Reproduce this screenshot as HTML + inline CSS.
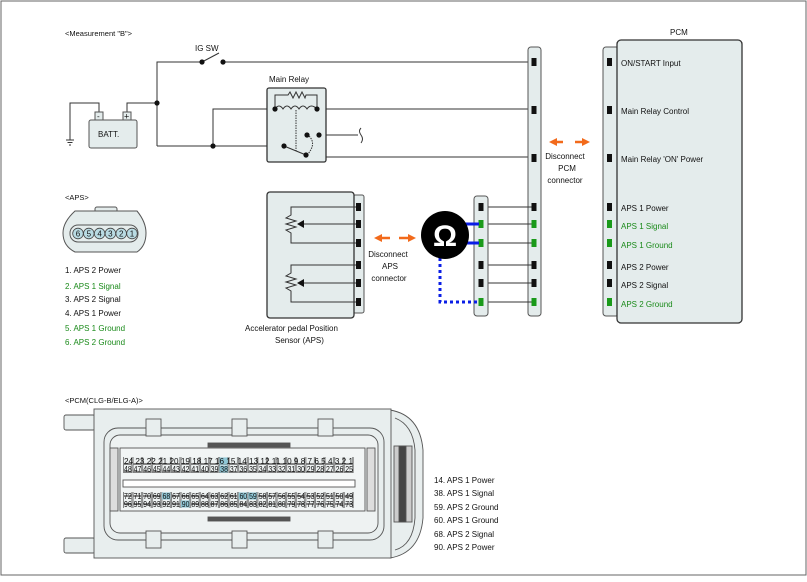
<!DOCTYPE html>
<html><head><meta charset="utf-8"><style>
html,body{margin:0;padding:0;background:#fff}
svg{display:block}
text{font-family:"Liberation Sans",sans-serif;font-size:8px;fill:#111}
.g{fill:#1a8a1a}
.s{font-size:7.5px}
</style></head><body>
<svg width="807" height="582" viewBox="0 0 807 582">
<defs>
<pattern id="pins" x="123" y="0" width="9.6" height="8" patternUnits="userSpaceOnUse">
<rect x="0.5" y="0.5" width="8.4" height="7" fill="#eef2f2" stroke="#555" stroke-width="0.7"/>
</pattern>
</defs>
<rect x="1" y="1" width="805" height="574" fill="none" stroke="#666" stroke-width="1"/>
<text x="65" y="36" class="s">&lt;Measurement "B"&gt;</text>

<!-- wiring -->
<g stroke="#333" stroke-width="1" fill="none">
<polyline points="157,146 157,62 202,62"/>
<line x1="202" y1="62" x2="219" y2="53"/>
<line x1="223" y1="62" x2="533" y2="62"/>
<polyline points="70,140 70,103 99,103 99,112"/>
<polyline points="127,112 127,103 157,103"/>
<line x1="157" y1="146" x2="284" y2="146"/>
<polyline points="213,146 213,109 275,109"/>
<line x1="317" y1="109" x2="533" y2="109"/>
<line x1="319" y1="135" x2="358" y2="135"/>
<path d="M361,128 q-3,3 0,7 q3,4 0,8"/>
<polyline points="320,135 320,157 533,157"/>
<line x1="66" y1="140" x2="74" y2="140"/><line x1="67.5" y1="142.5" x2="72.5" y2="142.5"/><line x1="69" y1="145" x2="71" y2="145"/>
</g>
<text x="195" y="51">IG SW</text>
<circle cx="202" cy="62" r="2.6" fill="#111"/><circle cx="223" cy="62" r="2.6" fill="#111"/>
<circle cx="157" cy="103" r="2.6" fill="#111"/><circle cx="213" cy="146" r="2.6" fill="#111"/>

<!-- battery -->
<rect x="89" y="120" width="48" height="28" rx="2" fill="#e4ecec" stroke="#555"/>
<rect x="95" y="112" width="8" height="8" fill="#e4ecec" stroke="#555"/>
<rect x="123" y="112" width="8" height="8" fill="#e4ecec" stroke="#555"/>
<text x="97" y="119" style="font-size:8px">-</text><text x="124" y="119.5" style="font-size:9px">+</text>
<text x="98" y="137">BATT.</text>

<!-- relay -->
<text x="269" y="82">Main Relay</text>
<rect x="267" y="88" width="59" height="74" rx="2" fill="#e4ecec" stroke="#333" stroke-width="1.3"/>
<g stroke="#333" stroke-width="1" fill="none">
<polyline points="275,109 275,95 288,95 290,92 293,98 296,92 299,98 302,92 305,98 306,95 317,95 317,109"/>
<path d="M275,109 q4,-6 8,0 q4,-6 8,0 q4,-6 8,0 q4,-6 8,0 q4,-6 10,0"/>
<line x1="296" y1="110" x2="296" y2="151" stroke-dasharray="1.5,1"/>
<line x1="284" y1="146" x2="306" y2="155"/>
<path d="M309,136 q8,8 -2,19" stroke-dasharray="1.5,1"/>
</g>
<circle cx="275" cy="109" r="2.6" fill="#111"/><circle cx="317" cy="109" r="2.6" fill="#111"/>
<circle cx="307" cy="135" r="2.6" fill="#111"/><circle cx="319" cy="135" r="2.6" fill="#111"/>
<circle cx="284" cy="146" r="2.6" fill="#111"/><circle cx="306" cy="155" r="2.6" fill="#111"/>

<!-- middle strip -->
<rect x="528" y="47" width="13" height="269" rx="3" fill="#e4ecec" stroke="#555"/>
<!-- small strip wires -->
<g stroke="#333" stroke-width="1">
<line x1="481" y1="207" x2="534" y2="207"/>
<line x1="481" y1="224" x2="534" y2="224"/>
<line x1="481" y1="243" x2="534" y2="243"/>
<line x1="481" y1="265" x2="534" y2="265"/>
<line x1="481" y1="283" x2="534" y2="283"/>
<line x1="481" y1="302" x2="534" y2="302"/>
</g>
<rect x="474" y="196" width="14" height="120" rx="3" fill="#e4ecec" stroke="#555"/>
<g fill="#111">
<rect x="531.5" y="58" width="5" height="8"/><rect x="531.5" y="106" width="5" height="8"/><rect x="531.5" y="154" width="5" height="8"/>
<rect x="531.5" y="203" width="5" height="8"/><rect x="531.5" y="261" width="5" height="8"/><rect x="531.5" y="279" width="5" height="8"/>
<rect x="478.5" y="203" width="5" height="8"/><rect x="478.5" y="261" width="5" height="8"/><rect x="478.5" y="279" width="5" height="8"/>
</g>
<g fill="#1a9a1a">
<rect x="531.5" y="220" width="5" height="8"/><rect x="531.5" y="239" width="5" height="8"/><rect x="531.5" y="298" width="5" height="8"/>
<rect x="478.5" y="220" width="5" height="8"/><rect x="478.5" y="239" width="5" height="8"/><rect x="478.5" y="298" width="5" height="8"/>
</g>

<!-- ohm meter -->
<line x1="455" y1="224" x2="479" y2="224" stroke="#0a1ee6" stroke-width="3"/>
<line x1="455" y1="243" x2="479" y2="243" stroke="#0a1ee6" stroke-width="3"/>
<polyline points="440,258 440,302 479,302" fill="none" stroke="#0a1ee6" stroke-width="3" stroke-dasharray="3,3"/>
<circle cx="445" cy="235" r="24" fill="#000"/>
<text x="445" y="246" text-anchor="middle" style="font-size:30px;fill:#fff;font-weight:bold">Ω</text>

<!-- orange arrows -->
<g stroke="#f26a1b" stroke-width="2.5" fill="#f26a1b">
<line x1="380" y1="238" x2="390" y2="238"/><polygon points="374,238 382,234 382,242" stroke="none"/>
<line x1="399" y1="238" x2="410" y2="238"/><polygon points="416,238 408,234 408,242" stroke="none"/>
<line x1="555" y1="142" x2="563" y2="142"/><polygon points="549,142 557,138 557,146" stroke="none"/>
<line x1="575" y1="142" x2="584" y2="142"/><polygon points="590,142 582,138 582,146" stroke="none"/>
</g>
<text x="565" y="159" text-anchor="middle">Disconnect</text>
<text x="567" y="171" text-anchor="middle">PCM</text>
<text x="565" y="183" text-anchor="middle">connector</text>
<text x="388" y="257" text-anchor="middle">Disconnect</text>
<text x="390" y="269" text-anchor="middle">APS</text>
<text x="389" y="281" text-anchor="middle">connector</text>

<!-- PCM -->
<text x="670" y="35">PCM</text>
<rect x="603" y="47" width="16" height="269" rx="3" fill="#e4ecec" stroke="#555"/>
<rect x="617" y="40" width="125" height="283" rx="4" fill="#e4ecec" stroke="#333" stroke-width="1.3"/>
<g fill="#111">
<rect x="607" y="58" width="5" height="8"/><rect x="607" y="106" width="5" height="8"/><rect x="607" y="154" width="5" height="8"/>
<rect x="607" y="203" width="5" height="8"/><rect x="607" y="261" width="5" height="8"/><rect x="607" y="279" width="5" height="8"/>
</g>
<g fill="#1a9a1a">
<rect x="607" y="220" width="5" height="8"/><rect x="607" y="239" width="5" height="8"/><rect x="607" y="298" width="5" height="8"/>
</g>
<text x="621" y="66">ON/START Input</text>
<text x="621" y="114">Main Relay Control</text>
<text x="621" y="162">Main Relay 'ON' Power</text>
<text x="621" y="211">APS 1 Power</text>
<text x="621" y="229" class="g">APS 1 Signal</text>
<text x="621" y="248" class="g">APS 1 Ground</text>
<text x="621" y="270">APS 2 Power</text>
<text x="621" y="288">APS 2 Signal</text>
<text x="621" y="307" class="g">APS 2 Ground</text>

<!-- APS sensor -->
<rect x="353" y="195" width="11" height="118" rx="2" fill="#e4ecec" stroke="#555"/>
<rect x="267" y="192" width="87" height="126" rx="3" fill="#e4ecec" stroke="#333" stroke-width="1.3"/>
<g stroke="#333" stroke-width="1" fill="none">
<polyline points="358,207 291,207 291,215 286,218 296,221 286,224 296,227 286,230 291,233 291,243 358,243"/>
<line x1="302" y1="224" x2="358" y2="224"/>
<polyline points="358,265 291,265 291,273 286,276 296,279 286,282 296,285 286,288 291,291 291,302 358,302"/>
<line x1="302" y1="283" x2="358" y2="283"/>
</g>
<polygon points="297,224 304,220 304,228" fill="#111"/>
<polygon points="297,283 304,279 304,287" fill="#111"/>
<g fill="#111">
<rect x="356" y="203" width="5" height="8"/><rect x="356" y="220" width="5" height="8"/><rect x="356" y="239" width="5" height="8"/>
<rect x="356" y="261" width="5" height="8"/><rect x="356" y="279" width="5" height="8"/><rect x="356" y="298" width="5" height="8"/>
</g>
<text x="245" y="331">Accelerator pedal Position</text>
<text x="275" y="343">Sensor (APS)</text>

<!-- APS connector -->
<text x="65" y="200" class="s">&lt;APS&gt;</text>
<rect x="95" y="207" width="22" height="14" rx="2" fill="#e4ecec" stroke="#555"/>
<path d="M75,211 L137,211 Q146,222 146,233 Q146,246 137,252 L75,252 Q63,246 63,233 Q63,222 75,211 Z" fill="#e4ecec" stroke="#555"/>
<rect x="70" y="225" width="68" height="17" rx="8" fill="#e4ecec" stroke="#555"/>
<g fill="#b9dbe3" stroke="#444" stroke-width="0.8">
<circle cx="78" cy="233.5" r="5.3"/><circle cx="88.8" cy="233.5" r="5.3"/><circle cx="99.6" cy="233.5" r="5.3"/>
<circle cx="110.4" cy="233.5" r="5.3"/><circle cx="121.2" cy="233.5" r="5.3"/><circle cx="132" cy="233.5" r="5.3"/>
</g>
<g style="font-size:8px" text-anchor="middle">
<text x="78" y="236.5">6</text><text x="88.8" y="236.5">5</text><text x="99.6" y="236.5">4</text><text x="110.4" y="236.5">3</text><text x="121.2" y="236.5">2</text><text x="132" y="236.5">1</text>
</g>
<text x="65" y="273">1.   APS 2 Power</text>
<text x="65" y="289" class="g">2. APS 1 Signal</text>
<text x="65" y="302">3. APS 2 Signal</text>
<text x="65" y="316">4. APS 1 Power</text>
<text x="65" y="331" class="g">5. APS 1 Ground</text>
<text x="65" y="345" class="g">6. APS 2 Ground</text>

<!-- PCM connector drawing -->
<text x="65" y="403" class="s">&lt;PCM(CLG-B/ELG-A)&gt;</text>
<g stroke="#555" stroke-width="0.9" fill="#e8eeee">
<rect x="64" y="415" width="31" height="15" rx="2"/>
<rect x="64" y="538" width="31" height="15" rx="2"/>
<path d="M390,410 Q420,415 423,450 L423,518 Q420,553 390,558 Z"/>
<path d="M395,418 Q413,425 415,450 L415,518 Q413,545 395,550" fill="none"/>
<rect x="394" y="446" width="18" height="76" fill="#ccc"/>
<rect x="399" y="446" width="7" height="76" fill="#444"/>
<rect x="94" y="409" width="297" height="149"/>
<rect x="104" y="428" width="280" height="112" rx="14" fill="#e8eeee"/>
<rect x="110" y="435" width="268" height="98" rx="10" fill="#eef2f2"/>
<rect x="120" y="448" width="245" height="63" fill="#f2f5f5"/>
<rect x="110" y="448" width="8" height="63" fill="#ddd"/>
<rect x="367" y="448" width="8" height="63" fill="#ddd"/>
<rect x="146" y="419" width="15" height="17"/><rect x="232" y="419" width="15" height="17"/><rect x="318" y="419" width="15" height="17"/>
<rect x="146" y="531" width="15" height="17"/><rect x="232" y="531" width="15" height="17"/><rect x="318" y="531" width="15" height="17"/>
<rect x="208" y="443" width="82" height="4" fill="#555"/>
<rect x="208" y="517" width="82" height="4" fill="#555"/>
<rect x="123" y="480" width="232" height="7" fill="#fff"/>
</g>
<rect x="123" y="457" width="231" height="8" fill="url(#pins)"/>
<rect x="123" y="465" width="231" height="8" fill="url(#pins)"/>
<rect x="123" y="492" width="231" height="8" fill="url(#pins)"/>
<rect x="123" y="500" width="231" height="8" fill="url(#pins)"/>
<g fill="#8fc7d6">
<rect x="219.5" y="457.5" width="8.4" height="7"/><rect x="219.5" y="465.5" width="8.4" height="7"/>
<rect x="238.7" y="492.5" width="8.4" height="7"/><rect x="248.3" y="492.5" width="8.4" height="7"/>
<rect x="161.9" y="492.5" width="8.4" height="7"/><rect x="181.1" y="500.5" width="8.4" height="7"/>
</g>
<g style="font-size:6px;fill:#333">
<text x="124" y="464" textLength="229" lengthAdjust="spacingAndGlyphs">24 23 22 21 20 19 18 17 16 15 14 13 12 11 10 9 8 7 6 5 4 3 2 1</text>
<text x="124" y="472" textLength="229" lengthAdjust="spacingAndGlyphs">48 47 46 45 44 43 42 41 40 39 38 37 36 35 34 33 32 31 30 29 28 27 26 25</text>
<text x="124" y="499" textLength="229" lengthAdjust="spacingAndGlyphs">72 71 70 69 68 67 66 65 64 63 62 61 60 59 58 57 56 55 54 53 52 51 50 49</text>
<text x="124" y="507" textLength="229" lengthAdjust="spacingAndGlyphs">96 95 94 93 92 91 90 89 88 87 86 85 84 83 82 81 80 79 78 77 76 75 74 73</text>
</g>
<text x="434" y="483">14. APS 1 Power</text>
<text x="434" y="496">38. APS 1 Signal</text>
<text x="434" y="510">59. APS 2 Ground</text>
<text x="434" y="523">60. APS 1 Ground</text>
<text x="434" y="537">68. APS 2 Signal</text>
<text x="434" y="550">90. APS 2 Power</text>
</svg>
</body></html>
